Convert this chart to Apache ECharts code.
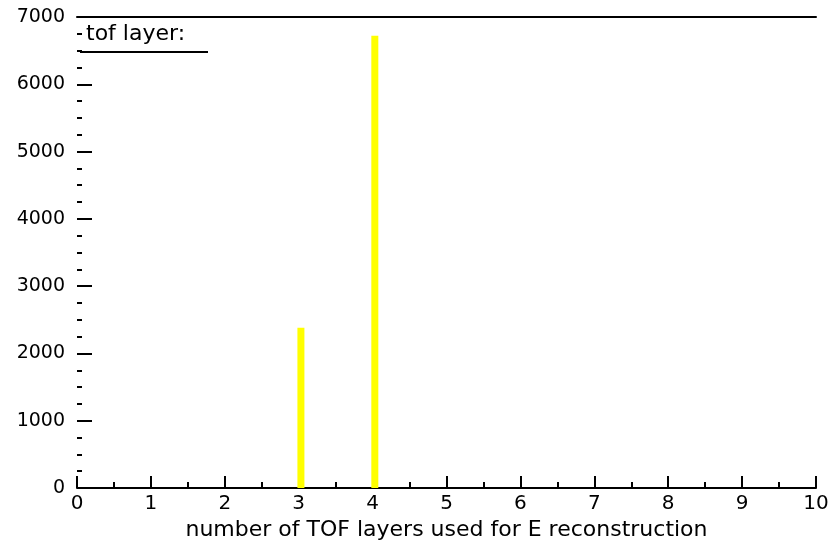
<!DOCTYPE html>
<html><head><meta charset="utf-8">
<script src="https://cdn.jsdelivr.net/npm/echarts@6/dist/echarts.min.js"></script>
<style>html,body{margin:0;padding:0;background:#fff}#c{width:829px;height:541px}</style>
</head><body><div id="c"></div>
<script>
const layers = [3, 4];
const counts = [2380, 6720];
const xTicks = [0,1,2,3,4,5,6,7,8,9,10];
const yTicks = [0,1000,2000,3000,4000,5000,6000,7000];
const legendText = 'tof layer:';
const xTitle = 'number of TOF layers used for E reconstruction';

const FONT = 'DejaVu Sans';
const chart = echarts.init(document.getElementById('c'));
chart.setOption({
  animation: false,
  backgroundColor: '#fff',
  grid: {left: 77, right: 13, top: 17, bottom: 53, containLabel: false, outerBoundsMode: 'none'},
  title: {text: legendText, left: 86, top: 23, padding: 0,
    textStyle: {fontFamily: FONT, fontSize: 22, fontWeight: 'normal', color: '#000'}},
  graphic: [{type: 'line', shape: {x1: 80, y1: 52, x2: 208, y2: 52}, style: {stroke: '#000', lineWidth: 2}}],
  xAxis: [{
    type: 'value', min: xTicks[0], max: xTicks[xTicks.length-1], interval: 1,
    position: 'bottom',
    name: xTitle, nameLocation: 'middle', nameGap: 29,
    nameTextStyle: {fontFamily: FONT, fontSize: 22, color: '#000'},
    axisLine: {show: true, lineStyle: {color: '#000', width: 2}},
    axisTick: {show: true, inside: true, length: 12, lineStyle: {color: '#000', width: 2}},
    minorTick: {show: true, splitNumber: 2, length: 6, lineStyle: {color: '#000', width: 2}},
    axisLabel: {fontFamily: FONT, fontSize: 20, color: '#000', margin: 6, formatter: v => String(v)},
    splitLine: {show: false}
  }, {
    type: 'value', min: 0, max: 10, position: 'top',
    axisLine: {show: true, lineStyle: {color: '#000', width: 2}},
    axisTick: {show: false}, axisLabel: {show: false}, splitLine: {show: false}
  }],
  yAxis: {
    type: 'value', min: yTicks[0], max: yTicks[yTicks.length-1], interval: 1000,
    axisLine: {show: false},
    axisTick: {show: true, inside: true, length: 15, lineStyle: {color: '#000', width: 2}},
    minorTick: {show: true, splitNumber: 4, length: 5, lineStyle: {color: '#000', width: 2}},
    axisLabel: {fontFamily: FONT, fontSize: 19, color: '#000', margin: 12, formatter: v => String(v)},
    splitLine: {show: false}
  },
  series: [{
    type: 'bar', barWidth: 7, xAxisIndex: 0,
    itemStyle: {color: '#ffff00'},
    data: layers.map((x, i) => [x + 0.03, counts[i]])
  }]
});
</script></body></html>
